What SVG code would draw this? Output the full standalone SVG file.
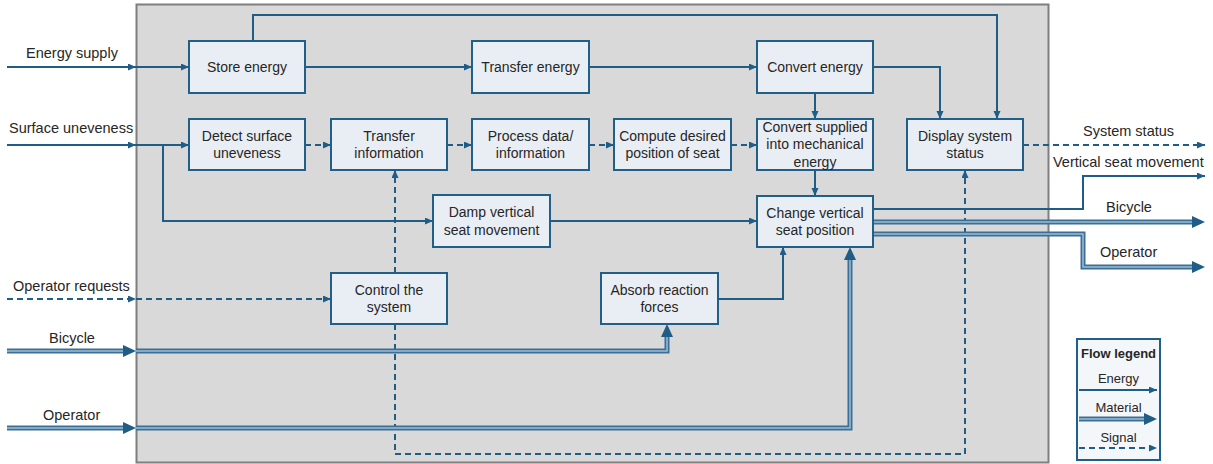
<svg xmlns="http://www.w3.org/2000/svg" width="1213" height="464" viewBox="0 0 1213 464">
  <defs>
    <style>
      .node rect { fill: #e9eef5; stroke: #215e88; stroke-width: 2; }
      .node text, .lbl { font-family: "Liberation Sans", Arial, sans-serif; font-size: 14px; fill: #262626; }
      .lbl { font-size: 14.5px; }
      .node text { text-anchor: middle; }
      .energy { fill: none; stroke: #1f5d87; stroke-width: 2; }
      .signal { fill: none; stroke: #1f5d87; stroke-width: 2; stroke-dasharray: 6 4; }
      .mat-o { fill: none; stroke: #3a6f98; stroke-width: 5; stroke-linejoin: miter; }
      .mat-i { fill: none; stroke: #9fbcd2; stroke-width: 1.5; stroke-linejoin: miter; }
      .leg { font-family: "Liberation Sans", Arial, sans-serif; font-size: 13px; fill: #262626; text-anchor: middle; }
    </style>
    <marker id="arr" markerUnits="userSpaceOnUse" markerWidth="9" markerHeight="8" refX="8" refY="3.5" orient="auto">
      <path d="M0,0 L8,3.5 L0,7 z" fill="#1f5d87"/>
    </marker>
    <marker id="arrM" markerUnits="userSpaceOnUse" markerWidth="14" markerHeight="13" refX="0" refY="6" orient="auto">
      <path d="M0,0 L13,6 L0,12 z" fill="#1f5d87"/>
    </marker>
  </defs>

  <!-- system boundary -->
  <rect x="136.5" y="4.5" width="912" height="458" fill="#d9d9d9" stroke="#7f7f7f" stroke-width="2"/>

  <!-- connectors -->
  <g id="connectors">
    <!-- energy flows -->
    <path class="energy" d="M7,67 H136" marker-end="url(#arr)"/>
    <path class="energy" d="M136,67 H189" marker-end="url(#arr)"/>
    <path class="energy" d="M305,67 H472" marker-end="url(#arr)"/>
    <path class="energy" d="M589,67 H757" marker-end="url(#arr)"/>
    <path class="energy" d="M873,67 H940 V119" marker-end="url(#arr)"/>
    <path class="energy" d="M253,41 V15 H997 V119" marker-end="url(#arr)"/>
    <path class="energy" d="M815,93 V119" marker-end="url(#arr)"/>
    <path class="energy" d="M815,170 V196" marker-end="url(#arr)"/>
    <path class="energy" d="M7,145 H136" marker-end="url(#arr)"/>
    <path class="energy" d="M136,145 H189" marker-end="url(#arr)"/>
    <path class="energy" d="M163,145 V221 H433" marker-end="url(#arr)"/>
    <path class="energy" d="M550,221 H757" marker-end="url(#arr)"/>
    <path class="energy" d="M718,299 H783 V247" marker-end="url(#arr)"/>
    <path class="energy" d="M873,209 H1083 V176 H1205" marker-end="url(#arr)"/>

    <!-- signal flows -->
    <path class="signal" d="M305,145 H331" marker-end="url(#arr)"/>
    <path class="signal" d="M447,145 H472" marker-end="url(#arr)"/>
    <path class="signal" d="M589,145 H614" marker-end="url(#arr)"/>
    <path class="signal" d="M731,145 H757" marker-end="url(#arr)"/>
    <path class="signal" d="M1023,145 H1205" marker-end="url(#arr)"/>
    <path class="signal" d="M7,299 H136" marker-end="url(#arr)"/>
    <path class="signal" d="M136,299 H331" marker-end="url(#arr)"/>
    <path class="signal" d="M395,273 V170" marker-end="url(#arr)"/>
    <path class="signal" d="M395,324 V454 H965 V170" marker-end="url(#arr)"/>

    <!-- material flows -->
    <path class="mat-o" d="M7,351 H123" marker-end="url(#arrM)"/>
    <path class="mat-i" d="M7,351 H123"/>
    <path class="mat-o" d="M136,351 H667 V337" marker-end="url(#arrM)"/>
    <path class="mat-i" d="M136,351 H667 V337"/>
    <path class="mat-o" d="M7,428 H123" marker-end="url(#arrM)"/>
    <path class="mat-i" d="M7,428 H123"/>
    <path class="mat-o" d="M136,428 H850 V260" marker-end="url(#arrM)"/>
    <path class="mat-i" d="M136,428 H850 V260"/>
    <path class="mat-o" d="M873,222 H1192" marker-end="url(#arrM)"/>
    <path class="mat-i" d="M873,222 H1192"/>
    <path class="mat-o" d="M873,234 H1083 V267 H1192" marker-end="url(#arrM)"/>
    <path class="mat-i" d="M873,234 H1083 V267 H1192"/>
  </g>

  <!-- flow labels -->
  <g id="flow-labels">
    <text class="lbl" x="26" y="58">Energy supply</text>
    <text class="lbl" x="9" y="132.5">Surface uneveness</text>
    <text class="lbl" x="13" y="291">Operator requests</text>
    <text class="lbl" x="49" y="342.5">Bicycle</text>
    <text class="lbl" x="43" y="420">Operator</text>
    <text class="lbl" x="1083" y="135.5">System status</text>
    <text class="lbl" x="1053" y="167">Vertical seat movement</text>
    <text class="lbl" x="1106" y="212">Bicycle</text>
    <text class="lbl" x="1100" y="257">Operator</text>
  </g>

  <!-- function blocks -->
  <g id="store-energy" class="node">
    <rect x="189" y="41" width="116" height="52"/>
    <text x="247" y="72">Store energy</text>
  </g>
  <g id="transfer-energy" class="node">
    <rect x="472" y="41" width="117" height="52"/>
    <text x="530.5" y="72">Transfer energy</text>
  </g>
  <g id="convert-energy" class="node">
    <rect x="757" y="41" width="116" height="52"/>
    <text x="815" y="72">Convert energy</text>
  </g>
  <g id="detect-surface" class="node">
    <rect x="189" y="119" width="116" height="51"/>
    <text x="247" y="140.75">Detect surface</text>
    <text x="247" y="158.25">uneveness</text>
  </g>
  <g id="transfer-information" class="node">
    <rect x="331" y="119" width="116" height="51"/>
    <text x="389" y="140.75">Transfer</text>
    <text x="389" y="158.25">information</text>
  </g>
  <g id="process-data" class="node">
    <rect x="472" y="119" width="117" height="51"/>
    <text x="530.5" y="140.75">Process data/</text>
    <text x="530.5" y="158.25">information</text>
  </g>
  <g id="compute-position" class="node">
    <rect x="614" y="119" width="117" height="51"/>
    <text x="672.5" y="140.75">Compute desired</text>
    <text x="672.5" y="158.25">position of seat</text>
  </g>
  <g id="convert-supplied" class="node">
    <rect x="757" y="119" width="116" height="51"/>
    <text x="815" y="131.5">Convert supplied</text>
    <text x="815" y="149">into mechanical</text>
    <text x="815" y="166.5">energy</text>
  </g>
  <g id="display-status" class="node">
    <rect x="907" y="119" width="116" height="51"/>
    <text x="965" y="140.75">Display system</text>
    <text x="965" y="158.25">status</text>
  </g>
  <g id="damp-movement" class="node">
    <rect x="433" y="195" width="117" height="52"/>
    <text x="491.5" y="217.25">Damp vertical</text>
    <text x="491.5" y="234.75">seat movement</text>
  </g>
  <g id="change-position" class="node">
    <rect x="757" y="196" width="116" height="51"/>
    <text x="815" y="217.75">Change vertical</text>
    <text x="815" y="235.25">seat position</text>
  </g>
  <g id="control-system" class="node">
    <rect x="331" y="273" width="116" height="51"/>
    <text x="389" y="294.75">Control the</text>
    <text x="389" y="312.25">system</text>
  </g>
  <g id="absorb-forces" class="node">
    <rect x="601" y="273" width="117" height="51"/>
    <text x="659.5" y="294.75">Absorb reaction</text>
    <text x="659.5" y="312.25">forces</text>
  </g>

  <!-- legend -->
  <g id="legend">
    <rect x="1077" y="339" width="83" height="121" fill="#f4f7fa" stroke="#215e88" stroke-width="2"/>
    <text class="leg" x="1118.5" y="358" font-weight="bold" font-size="12.5px">Flow legend</text>
    <text class="leg" x="1118.5" y="383">Energy</text>
    <path class="energy" d="M1079,390 H1157" marker-end="url(#arr)"/>
    <text class="leg" x="1118.5" y="412">Material</text>
    <path class="mat-o" d="M1079,419 H1144" marker-end="url(#arrM)"/>
    <path class="mat-i" d="M1079,419 H1144"/>
    <text class="leg" x="1118.5" y="442">Signal</text>
    <path class="signal" d="M1079,448 H1157" marker-end="url(#arr)"/>
  </g>
</svg>
